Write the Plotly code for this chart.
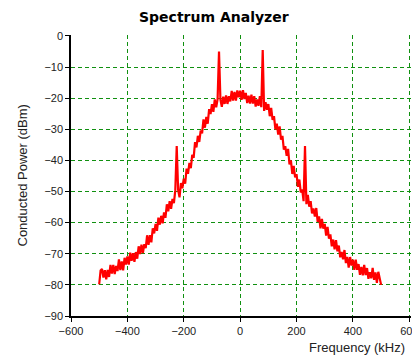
import plotly.graph_objects as go

# Frequency grid (kHz), 5 kHz step
freq_khz = list(range(-500, 501, 5))

# Conducted power (dBm), one value per frequency point
power_dbm = [
    -79.8, -75.4, -74.9, -77.65, -75.3, -78.25, -75.2, -77.45, -73.6, -76.35,
    -73.6, -76.55, -73.9, -75.55, -71.8, -75.25, -72.5, -75.35, -71.3, -73.45,
    -70.9, -73.5, -69.65, -72.3, -69.8, -72.6, -69.45, -71.6, -67.6, -70.1,
    -67.1, -69.8, -66.9, -68.2, -64.05, -67.1, -64.0, -66.35, -61.8, -63.45,
    -60.4, -62.65, -58.4, -60.65, -57.8, -60.25, -56.7, -58.45, -54.1, -56.35,
    -53.1, -55.55, -52.4, -53.7, -49.55, -35.4, -49.5, -51.85, -47.3, -48.95,
    -45.9, -47.5, -42.65, -44.3, -40.8, -42.5, -38.2, -39.2, -34.1, -35.85,
    -32.1, -34.05, -30.4, -31.3, -26.8, -29.5, -26.0, -28.2, -23.55, -25.1,
    -21.9, -24.4, -20.4, -22.9, -20.3, -5.0, -20.45, -22.8, -19.5, -21.85,
    -19.1, -21.85, -19.4, -21.05, -17.7, -20.75, -18.0, -20.8, -17.5, -19.7,
    -17.6, -20.5, -17.45, -20.3, -18.3, -21.55, -19.2, -21.75, -18.9, -21.7,
    -19.35, -22.7, -20.4, -22.45, -19.35, -22.9, -4.5, -24.1, -21.3, -23.7,
    -21.9, -25.8, -23.15, -27.0, -25.8, -30.0, -28.2, -31.7, -29.1, -33.35,
    -32.1, -36.55, -35.4, -38.55, -36.3, -41.25, -40.0, -44.35, -41.8, -45.45,
    -44.4, -48.5, -46.15, -50.3, -49.3, -53.1, -35.4, -54.05, -51.1, -54.85,
    -53.1, -57.05, -55.4, -58.05, -55.3, -59.75, -58.0, -61.85, -58.8, -61.95,
    -60.4, -64.15, -61.4, -65.15, -63.8, -67.6, -65.45, -68.55, -65.6, -69.2,
    -67.35, -71.15, -69.4, -71.8, -68.8, -73.0, -71.0, -74.45, -71.05, -73.8,
    -71.9, -75.15, -71.9, -75.15, -73.3, -76.75, -74.2, -76.95, -73.6, -76.85,
    -74.6, -78.05, -75.9, -77.9, -74.55, -78.4, -76.0, -79.35, -75.8, -78.45,
    -80.0,
]

x_ticks = [-600, -400, -200, 0, 200, 400, 600]
y_ticks = [0, -10, -20, -30, -40, -50, -60, -70, -80, -90]

fig = go.Figure()
fig.add_trace(go.Scatter(
    x=freq_khz, y=power_dbm, mode="lines",
    line=dict(color="#ff0000", width=2.2),
    showlegend=False, hoverinfo="skip",
))

axis_common = dict(
    showgrid=True, gridcolor="#109010", gridwidth=1, griddash="4px,3px",
    showline=True, linecolor="#000000", linewidth=1.5,
    ticks="outside", ticklen=4, tickcolor="#000000",
    zeroline=False, automargin=False, ticklabeloverflow="allow",
    tickfont=dict(family="Liberation Sans, Arial", size=11, color="#222222"),
)

fig.update_xaxes(range=[-600, 606], tickvals=x_ticks, **axis_common)
fig.update_yaxes(range=[-90, 0.3], tickvals=y_ticks, **axis_common)

fig.update_layout(
    width=412, height=356,
    margin=dict(l=71, r=1, t=35, b=40),
    paper_bgcolor="white", plot_bgcolor="white",
    annotations=[
        dict(text="<b>Spectrum Analyzer</b>", xref="paper", yref="paper",
             x=(214 - 71) / 340, y=1 + (35 - 17) / 281, xanchor="center", yanchor="middle",
             showarrow=False, font=dict(family="DejaVu Sans", size=14, color="#000000")),
        dict(text="Conducted Power (dBm)", xref="paper", yref="paper",
             x=(22 - 71) / 340, y=0.5, xanchor="center", yanchor="middle", textangle=-90,
             showarrow=False, font=dict(family="Liberation Sans, Arial", size=13, color="#222222")),
        dict(text="Frequency (kHz)", xref="paper", yref="paper",
             x=(407 - 71) / 340, y=-(347 - 316) / 281, xanchor="right", yanchor="middle",
             showarrow=False, font=dict(family="Liberation Sans, Arial", size=13, color="#222222")),
    ],
)

fig.write_html(
    "out.html",
    config={"displayModeBar": False},
    post_script="document.body.style.margin='0';document.body.style.padding='0';",
)
